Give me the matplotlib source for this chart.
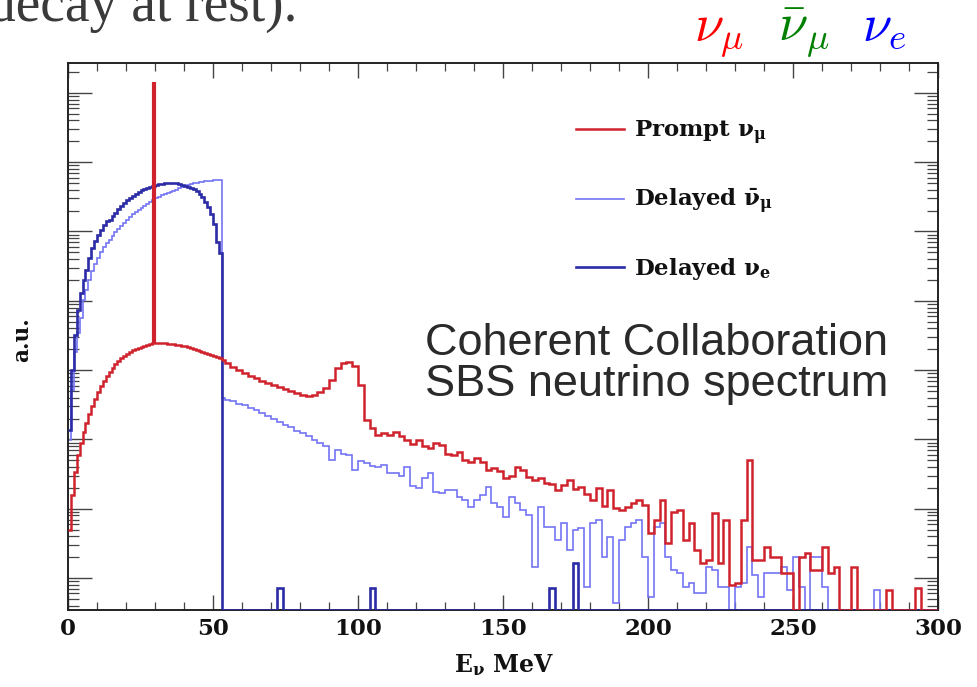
import numpy as np
import matplotlib
matplotlib.use("Agg")
import matplotlib.pyplot as plt
from matplotlib.ticker import LogLocator, NullFormatter, MultipleLocator
from matplotlib.font_manager import FontProperties
from matplotlib.lines import Line2D

# ---------------- data ----------------
N = None                 # empty bin
# binning: 1-MeV bins from 0 to 54 MeV, 2-MeV bins from 54 to 300 MeV
fine_start, fine_stop, fine_width = 0, 54, 1
coarse_stop, coarse_width = 300, 2

# log10 of bin contents (a.u.)
prompt_numu_log_fine = [
    -6.31, -5.80, -5.47, -5.22, -5.05, -4.89, -4.76, -4.63, -4.52, -4.42,
    -4.32, -4.23, -4.16, -4.08, -4.03, -3.97, -3.91, -3.87, -3.82, -3.80,
    -3.77, -3.74, -3.71, -3.69, -3.68, -3.67, -3.65, -3.64, -3.62, -3.61,
    -3.61, -3.61, -3.61, -3.61, -3.62, -3.62, -3.62, -3.64, -3.64, -3.65,
    -3.65, -3.67, -3.68, -3.69, -3.71, -3.72, -3.74, -3.75, -3.77, -3.78,
    -3.80, -3.81, -3.82, -3.85,
]
prompt_numu_log_coarse = [
    -3.90, -3.95, -4.00,
    -4.04, -4.08, -4.11, -4.16, -4.19, -4.21, -4.24, -4.27, -4.30, -4.33,
    -4.36, -4.37, -4.36, -4.32, -4.26, -4.14, -3.97, -3.90, -3.88, -3.94,
    -4.21, -4.72, -4.84, -4.94, -4.91, -4.94, -4.89, -4.95, -5.01, -5.07,
    -5.01, -5.09, -5.12, -5.05, -5.08, -5.21, -5.22, -5.18, -5.30, -5.33,
    -5.27, -5.33, -5.44, -5.41, -5.46, -5.56, -5.53, -5.40, -5.44, -5.54,
    -5.59, -5.56, -5.63, -5.64, -5.73, -5.66, -5.59, -5.72, -5.69, -5.79,
    -5.87, -5.70, -5.96, -5.73, -5.99, -6.02, -5.98, -5.92, -5.87, -5.95,
    -6.35, -6.16, -5.87, -6.49, -6.05, -6.02, -6.45, -6.21, -6.60, -6.78,
    -6.74, -6.06, -6.78, -6.16, -7.10, -7.07, -6.16, -5.30, -6.74, -6.74,
    -6.55, -6.70, -6.70, -6.93, -6.93, N, -6.70, -6.64, -6.88, -6.88,
    -6.55, -6.93, -6.84, N, N, -6.84, N, N, N, N,
    N, -7.17, N, N, N, N, -7.14, N, N, N,
]

delayed_numubar_log_fine = [
    -5.01, -4.29, -3.74, -3.46, -3.25, -2.99, -2.84, -2.70, -2.57, -2.47,
    -2.38, -2.30, -2.22, -2.17, -2.12, -2.06, -2.01, -1.96, -1.92, -1.88,
    -1.83, -1.79, -1.75, -1.72, -1.69, -1.66, -1.63, -1.60, -1.57, -1.54,
    -1.52, -1.50, -1.47, -1.46, -1.44, -1.43, -1.41, -1.40, -1.37, -1.36,
    -1.34, -1.33, -1.31, -1.30, -1.30, -1.28, -1.28, -1.27, -1.27, -1.27,
    -1.26, -1.26, -1.26, -4.40,
]
delayed_numubar_log_coarse = [
    -4.43, -4.45, -4.49,
    -4.50, -4.55, -4.58, -4.62, -4.66, -4.71, -4.75, -4.79, -4.82, -4.88,
    -4.91, -4.95, -5.01, -5.05, -5.09, -5.30, -5.15, -5.21, -5.22, -5.44,
    -5.31, -5.34, -5.38, -5.40, -5.37, -5.48, -5.48, -5.53, -5.40, -5.67,
    -5.70, -5.56, -5.48, -5.76, -5.77, -5.73, -5.73, -5.83, -5.87, -5.98,
    -5.87, -5.80, -5.69, -5.92, -5.98, -6.12, -5.83, -5.92, -6.02, -6.09,
    -6.84, -5.98, -6.26, -6.26, -6.45, -6.21, -6.60, -6.31, -6.28, -7.13,
    -6.21, -6.16, -6.70, -6.41, -7.36, -6.45, -6.26, -6.21, -6.16, -6.70,
    -7.27, -6.26, -6.21, -6.70, -6.88, -6.93, -7.13, -7.07, -7.22, -7.22,
    -6.84, -6.88, -7.13, -7.13, N, -7.13, -7.07, -6.55, -6.96, -7.27,
    -6.93, -6.93, -6.93, -6.84, -7.17, -6.70, -7.13, N, -6.70, -6.70,
    -7.13, N, N, N, N, N, N, N, N, -7.17,
    N, N, N, N, N, N, N, N, N, N,
]

delayed_nue_log_fine = [
    -4.86, -4.00, -3.49, -3.13, -2.89, -2.70, -2.55, -2.38, -2.24, -2.14,
    -2.05, -1.98, -1.91, -1.85, -1.83, -1.78, -1.73, -1.67, -1.63, -1.59,
    -1.54, -1.52, -1.49, -1.46, -1.43, -1.40, -1.39, -1.37, -1.36, -1.34,
    -1.33, -1.31, -1.31, -1.30, -1.30, -1.30, -1.30, -1.30, -1.31, -1.33,
    -1.34, -1.36, -1.37, -1.39, -1.41, -1.46, -1.50, -1.57, -1.65, -1.75,
    -1.89, -2.15, -2.31, N,
]
# above 54 MeV the delayed nu_e histogram only has a few isolated entries
delayed_nue_tail_energy = [73, 105, 167, 175]      # MeV (bin centres)
delayed_nue_tail_log = [-7.14, -7.14, -7.14, -6.78]

# monochromatic prompt nu_mu line from pion decay at rest
prompt_line_energy = 29.8
prompt_line_log = 0.16

legend_labels = [r'Prompt $\mathrm{\nu_{\mu}}$',
                 r'Delayed $\mathrm{\bar{\nu}_{\mu}}$',
                 r'Delayed $\mathrm{\nu_{e}}$']
x_ticks = [0, 50, 100, 150, 200, 250, 300]

# ---------------- style ----------------
RED = '#d0222c'
LIGHT_BLUE = '#7474f4'
DARK_BLUE = '#2c2ca6'
plt.rcParams['mathtext.fontset'] = 'custom'
plt.rcParams['mathtext.rm'] = 'DejaVu Serif:bold'
plt.rcParams['mathtext.it'] = 'DejaVu Serif:italic:bold'
plt.rcParams['mathtext.bf'] = 'DejaVu Serif:bold'

W, H = 977, 687
fig = plt.figure(figsize=(W / 100, H / 100), dpi=100)
fig.patch.set_facecolor('white')

L, R, T, B = 68, 938, 63, 610
ax = fig.add_axes([L / W, 1 - B / H, (R - L) / W, (B - T) / H])

ymin, ymax = 10 ** -7.46, 10 ** 0.43
edges = np.concatenate([np.arange(fine_start, fine_stop, fine_width),
                        np.arange(fine_stop, coarse_stop + 1, coarse_width)]).astype(float)
centers = 0.5 * (edges[:-1] + edges[1:])


def to_linear(values):
    return np.array([ymin if v is None else 10.0 ** v for v in values])


n_coarse = len(centers) - len(delayed_nue_log_fine)
nue_log = list(delayed_nue_log_fine) + [None] * n_coarse
for e, v in zip(delayed_nue_tail_energy, delayed_nue_tail_log):
    nue_log[int(np.argmin(np.abs(centers - e)))] = v

numubar = to_linear(delayed_numubar_log_fine + delayed_numubar_log_coarse)
nue = to_linear(nue_log)
numu = to_linear(prompt_numu_log_fine + prompt_numu_log_coarse)

ax.stairs(numubar, edges, color=LIGHT_BLUE, lw=1.2, baseline=None, zorder=2)
ax.stairs(nue, edges, color=DARK_BLUE, lw=1.9, baseline=None, zorder=3)
ax.stairs(numu, edges, color=RED, lw=1.8, baseline=None, zorder=4)
line_bin = int(np.searchsorted(edges, prompt_line_energy) - 1)
ax.vlines(prompt_line_energy, numu[line_bin], 10 ** prompt_line_log,
          color=RED, lw=3.0, zorder=4)

ax.set_yscale('log')
ax.set_xlim(0, coarse_stop)
ax.set_ylim(ymin, ymax)

ax.xaxis.set_major_locator(MultipleLocator(50))
ax.xaxis.set_minor_locator(MultipleLocator(10))
ax.set_xticks(x_ticks)
ax.yaxis.set_major_locator(LogLocator(base=10, numticks=20))
ax.yaxis.set_minor_locator(LogLocator(base=10, subs=np.arange(2, 10), numticks=20))
ax.yaxis.set_major_formatter(NullFormatter())
ax.yaxis.set_minor_formatter(NullFormatter())

ax.tick_params(which='both', direction='in', top=True, right=True, color='#444444')
ax.tick_params(axis='x', which='major', length=10.5, width=1.0, pad=6)
ax.tick_params(axis='x', which='minor', length=5.5, width=0.9)
ax.tick_params(axis='y', which='major', length=17, width=1.0)
ax.tick_params(axis='y', which='minor', length=8, width=0.9)
for lab in ax.get_xticklabels():
    lab.set_family('DejaVu Serif')
    lab.set_weight('bold')
    lab.set_fontsize(16.5)
    lab.set_color('#111111')
for s in ax.spines.values():
    s.set_linewidth(1.4)
    s.set_color('#222222')

# axis titles
fig.text(504 / W, 1 - 665 / H, r'E$_{\mathrm{\nu}}$ MeV', ha='center', va='center',
         family='DejaVu Serif', weight='bold', fontsize=17, color='#111111')
fig.text(22 / W, 1 - 340 / H, 'a.u.', ha='center', va='center', rotation=90,
         family='DejaVu Serif', weight='bold', fontsize=15.5, color='#111111')

# legend
handles = [Line2D([], [], color=RED, lw=1.8),
           Line2D([], [], color=LIGHT_BLUE, lw=1.2),
           Line2D([], [], color=DARK_BLUE, lw=1.9)]
leg = ax.legend(handles, legend_labels, loc='upper left',
                bbox_to_anchor=(555 / W, 1 - 98 / H), bbox_transform=fig.transFigure,
                frameon=False, handlelength=2.1, handletextpad=0.45, labelspacing=1.76,
                prop=FontProperties(family='DejaVu Serif', weight='bold', size=16.5,
                                    math_fontfamily='custom'))
for t in leg.get_texts():
    t.set_color('#111111')

# annotation text inside the plot
fig.text(425 / W, 1 - 323 / H, 'Coherent Collaboration\nSBS neutrino spectrum',
         ha='left', va='top', family='Liberation Sans', fontsize=32.5,
         color='#2a2a2a', linespacing=1.0)

# slide text around the figure
fig.text(-12 / W, 1 - 21 / H, 'decay at rest).', ha='left', va='baseline',
         family='Liberation Serif', fontsize=40, color='#3a3a3a')
fig.text(694 / W, 1 - 41 / H, r'$\nu_\mu$', color='#ff0000', fontsize=38,
         math_fontfamily='cm', ha='left', va='baseline')
fig.text(778 / W, 1 - 41 / H, r'$\bar{\nu}_\mu$', color='#008000', fontsize=38,
         math_fontfamily='cm', ha='left', va='baseline')
fig.text(862 / W, 1 - 41 / H, r'$\nu_e$', color='#0000ff', fontsize=38,
         math_fontfamily='cm', ha='left', va='baseline')

fig.savefig('out.png', dpi=100, facecolor='white')
